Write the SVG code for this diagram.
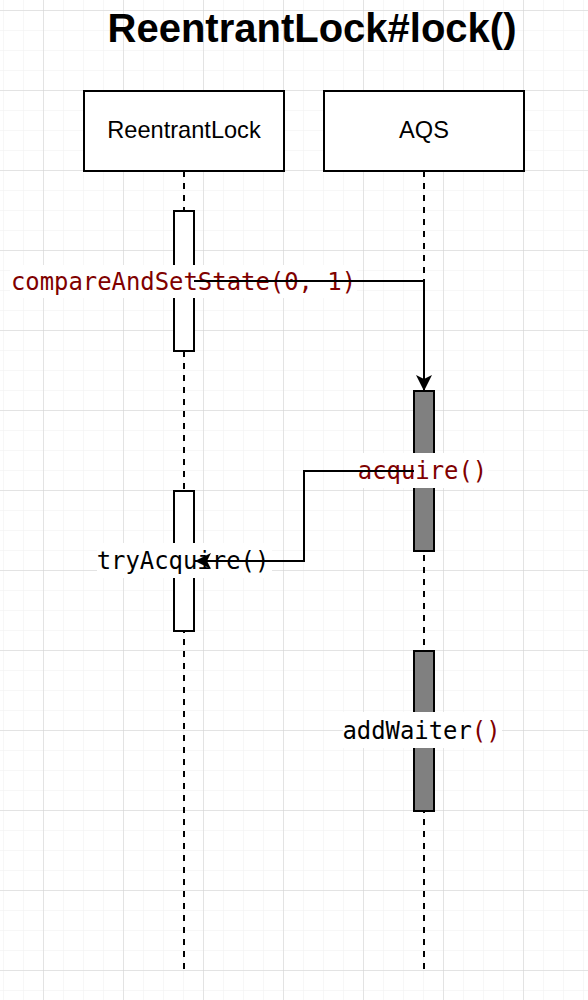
<svg xmlns="http://www.w3.org/2000/svg" width="588" height="1000" viewBox="0 0 588 1000">
  <defs>
    <pattern id="minor" x="3" y="10" width="20" height="20" patternUnits="userSpaceOnUse">
      <path d="M0 0 H20 M0 0 V20" fill="none" stroke="#f0f0f0" stroke-width="1"/>
    </pattern>
    <pattern id="major" x="43" y="10" width="80" height="80" patternUnits="userSpaceOnUse">
      <path d="M0 0 H80 M0 0 V80" fill="none" stroke="#d0d0d0" stroke-width="1"/>
    </pattern>
    <marker id="arrow" viewBox="0 0 16 16" refX="16" refY="8" markerWidth="16" markerHeight="16" markerUnits="userSpaceOnUse" orient="auto">
      <path d="M16 8 L0 0 L4 8 L0 16 Z" fill="#000"/>
    </marker>
    <style>
      .box { fill: #fff; stroke: #000; stroke-width: 2; }
      .act { fill: #fff; stroke: #000; stroke-width: 2; }
      .actg { fill: #808080; stroke: #000; stroke-width: 2; }
      .life { stroke: #000; stroke-width: 2; stroke-dasharray: 6 6; fill: none; }
      .conn { fill: none; stroke: #000; stroke-width: 2; }
      .lbl { font-family: "Liberation Sans", Arial, sans-serif; font-size: 23.6px; fill: #000; text-anchor: middle; }
      .mono { font-family: "DejaVu Sans Mono", monospace; font-size: 23.9px; text-anchor: middle; }
      .red { fill: #800000; }
      .blk { fill: #000; }
      .bg { fill: #fff; }
    </style>
  </defs>
  <rect x="0" y="0" width="588" height="1000" fill="#fff"/>
  <rect x="0" y="0" width="588" height="1000" fill="url(#minor)"/>
  <rect x="0" y="0" width="588" height="1000" fill="url(#major)"/>

  <g id="title">
    <text x="312" y="42" font-family="Liberation Sans, Arial, sans-serif" font-size="40" font-weight="bold" text-anchor="middle" fill="#000">ReentrantLock#lock()</text>
  </g>

  <g id="lifeline-reentrantlock">
    <line class="life" x1="184" y1="171" x2="184" y2="970"/>
    <rect class="box" x="84" y="91" width="200" height="80"/>
    <text class="lbl" x="184" y="138">ReentrantLock</text>
  </g>
  <g id="lifeline-aqs">
    <line class="life" x1="424" y1="171" x2="424" y2="970"/>
    <rect class="box" x="324" y="91" width="200" height="80"/>
    <text class="lbl" x="424" y="138">AQS</text>
  </g>

  <g id="act-rl-1"><rect class="act" x="174" y="211" width="20" height="140"/></g>
  <g id="act-rl-2"><rect class="act" x="174" y="491" width="20" height="140"/></g>
  <g id="act-aqs-1"><rect class="actg" x="414" y="391" width="20" height="160"/></g>
  <g id="act-aqs-2"><rect class="actg" x="414" y="651" width="20" height="160"/></g>

  <g id="label-compareAndSetState">
    <rect class="bg" x="10" y="265" width="347" height="33"/>
    <text class="mono red" x="183.5" y="290">compareAndSetState(0, 1)</text>
  </g>
  <g id="label-acquire">
    <rect class="bg" x="357" y="453" width="131" height="35"/>
    <text class="mono red" x="422.5" y="479">acquire()</text>
  </g>
  <g id="label-tryAcquire">
    <rect class="bg" x="97" y="543" width="175" height="35"/>
    <text class="mono blk" x="183" y="569">tryAcquire()</text>
  </g>
  <g id="label-addWaiter">
    <rect class="bg" x="343" y="712" width="159" height="36"/>
    <text class="mono blk" x="421.5" y="739">addWaiter<tspan class="red">()</tspan></text>
  </g>

  <g id="connectors">
    <path class="conn" d="M194 281 H424 V391" marker-end="url(#arrow)"/>
    <path class="conn" d="M414 471 H304 V561 H195" marker-end="url(#arrow)"/>
  </g>
</svg>
